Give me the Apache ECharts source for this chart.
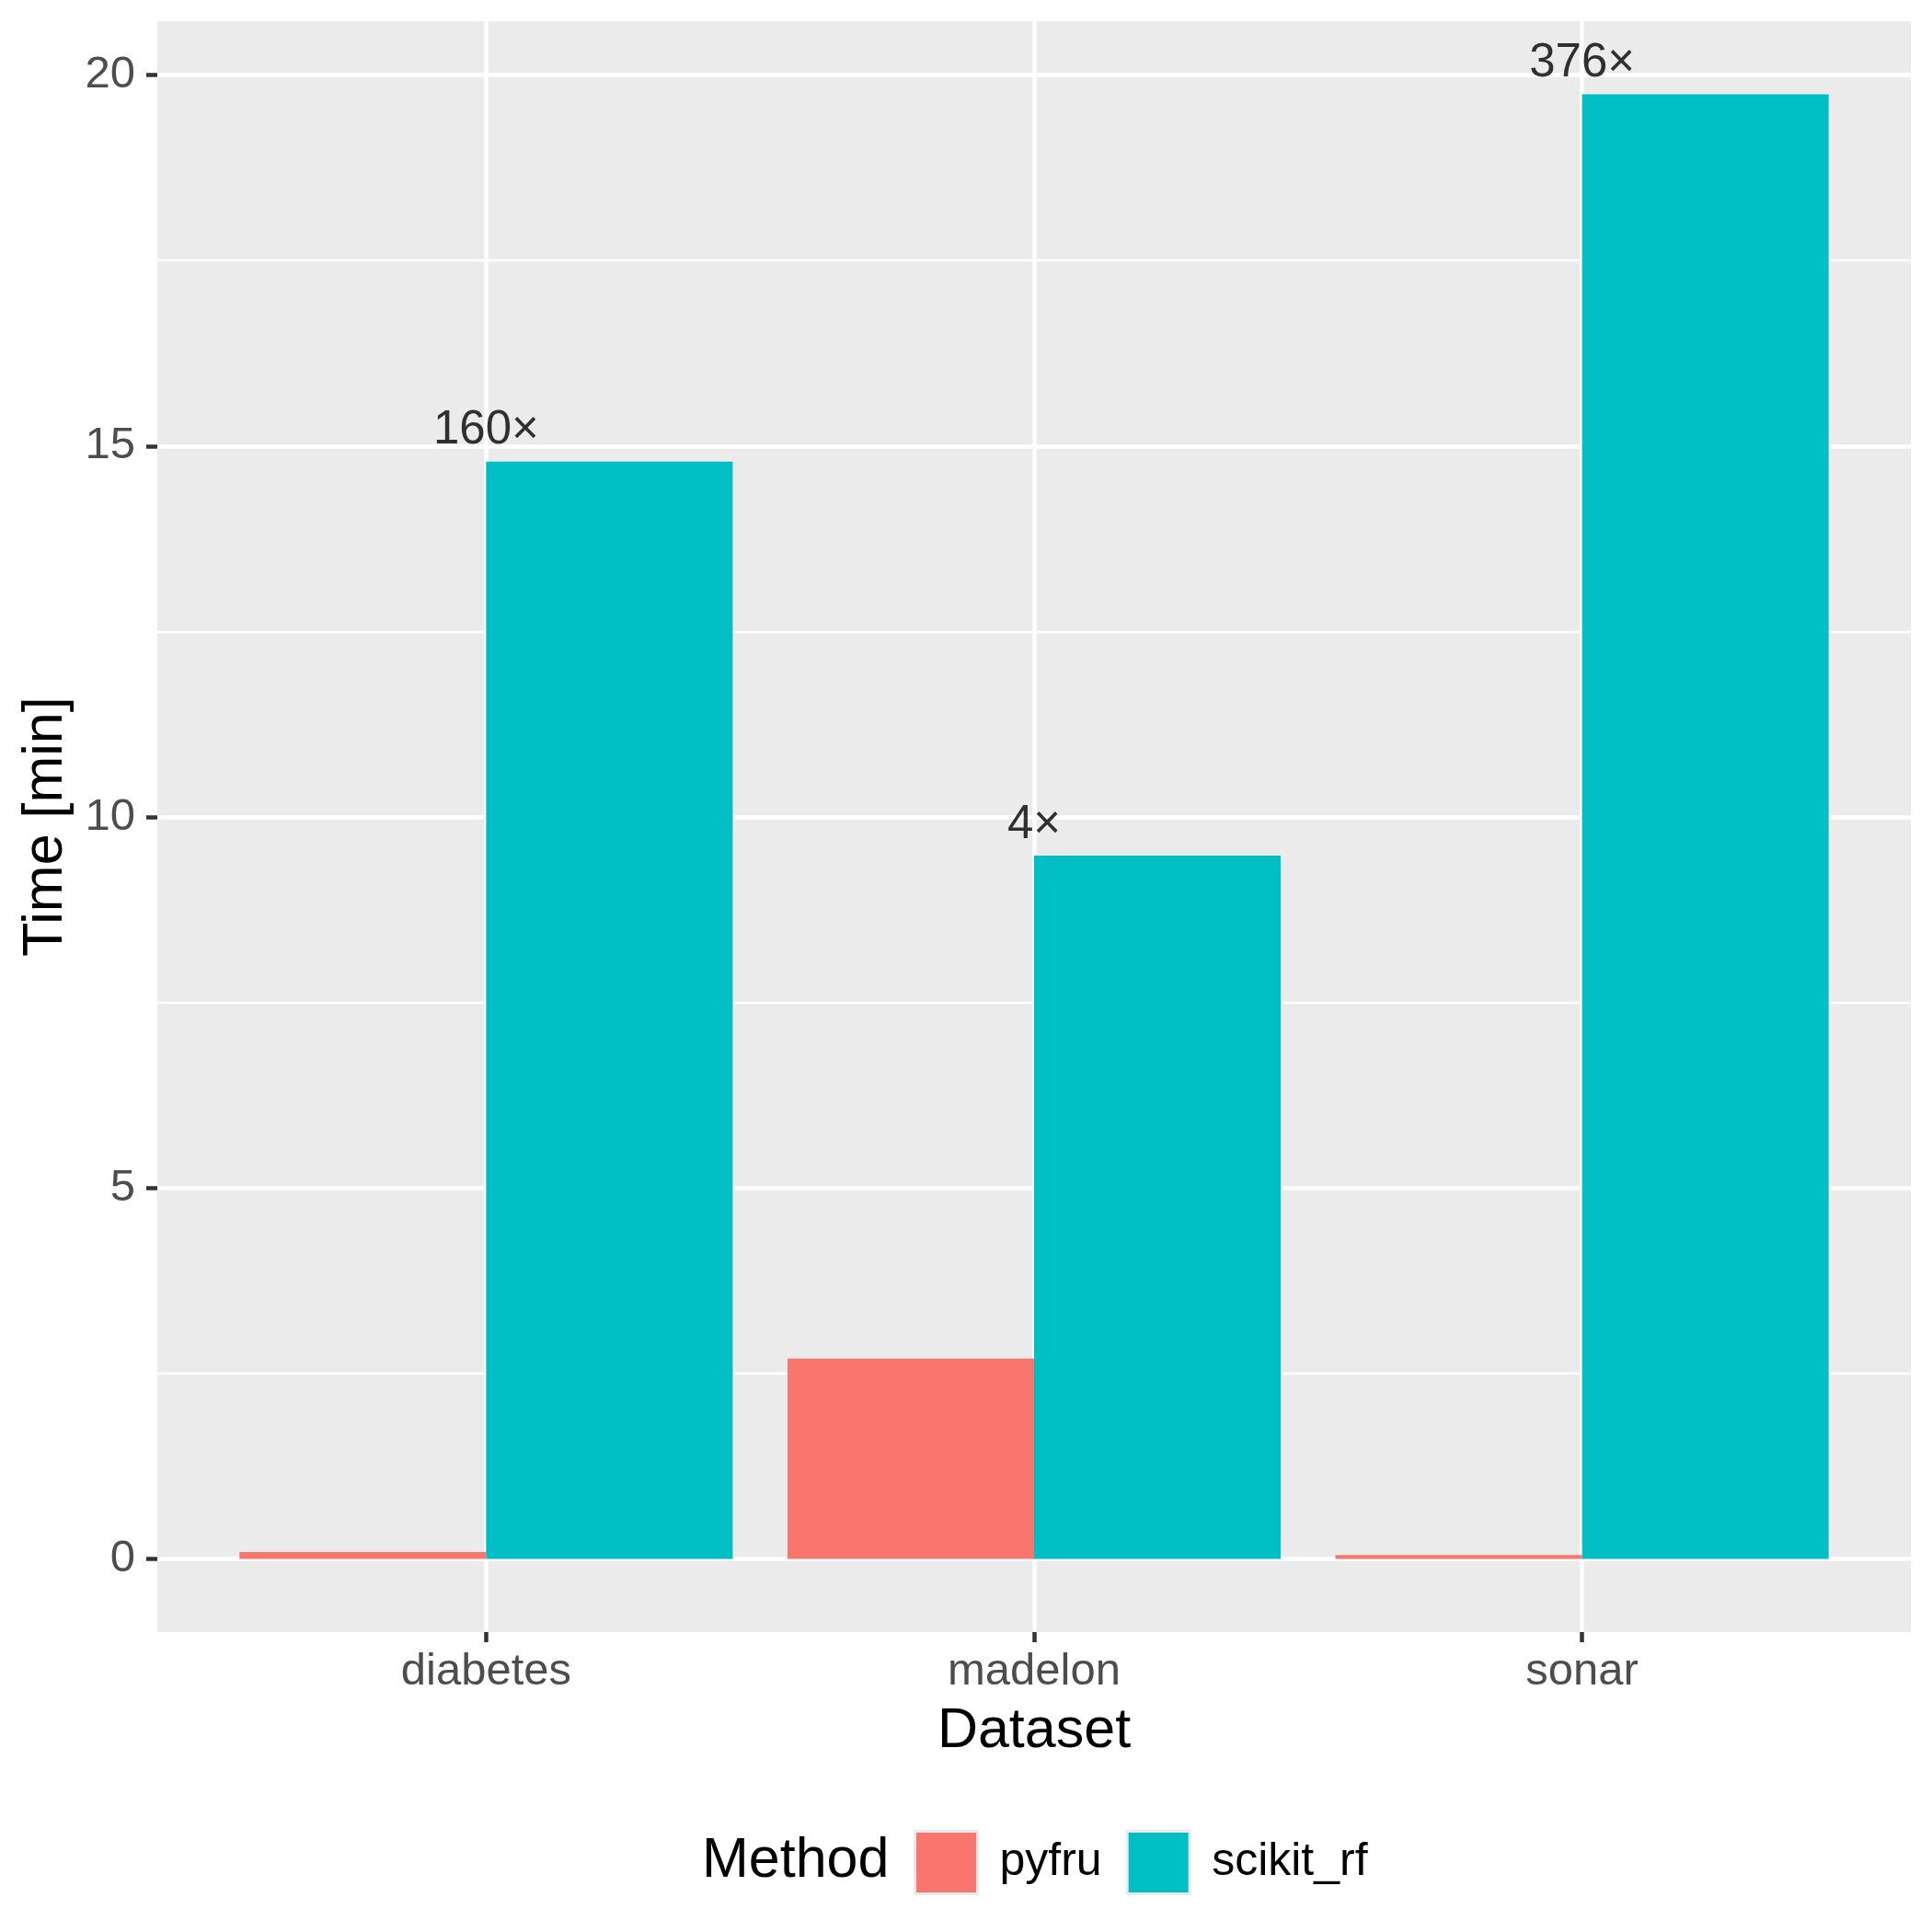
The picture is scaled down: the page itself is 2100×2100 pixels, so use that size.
<!DOCTYPE html>
<html>
<head>
<meta charset="utf-8">
<script src="https://cdn.jsdelivr.net/npm/echarts@6.0.0/dist/echarts.min.js"></script>
<style>
  html, body { margin: 0; padding: 0; background: #fff; }
  #main { width: 2100px; height: 2100px; }
</style>
</head>
<body>
<div id="main"></div>
<script>
// data (minutes)
var datasets = ['diabetes', 'madelon', 'sonar'];
var pyfru = [0.092, 2.70, 0.052];
var scikitRf = [14.79, 9.48, 19.74];
var speedups = ['160×', '4×', '376×'];
var yTicks = [0, 5, 10, 15, 20];
var yMinorTicks = [2.5, 7.5, 12.5, 17.5];
var methods = ['pyfru', 'scikit_rf'];
var colors = ['#F8766D', '#00BFC4'];

// ggplot style expansion of the scales
var yHi = Math.max.apply(null, scikitRf);
var yMin = -0.05 * yHi;
var yMax = yHi * 1.05;
var xMin = 1 - 0.6, xMax = datasets.length + 0.6;

var gridLeft = 171, gridRight = 23, gridTop = 23, gridBottom = 326;
var gridW = 2100 - gridLeft - gridRight;
var unit = gridW / (xMax - xMin);
var barW = 0.45 * unit;

function pts(vals) {
  return vals.map(function (v, i) { return [i + 1, v]; });
}

var font = '"Liberation Sans", Arial, Helvetica, sans-serif';

var chart = echarts.init(document.getElementById('main'));
var option = {
  backgroundColor: '#ffffff',
  animation: false,
  textStyle: { fontFamily: font },
  title: {
    text: 'Method',
    left: 758,
    top: 1988,
    textStyle: { fontFamily: font, fontSize: 61, fontWeight: 'normal', color: '#000' }
  },
  legend: {
    data: methods,
    left: 988,
    top: 1984,
    itemWidth: 68,
    itemHeight: 68,
    itemGap: 26,
    icon: 'rect',
    itemStyle: { borderColor: '#EBEBEB', borderWidth: 3 },
    textStyle: { fontFamily: font, fontSize: 50, color: '#000', padding: [0, 0, 0, 19] }
  },
  grid: {
    left: gridLeft, right: gridRight, top: gridTop, bottom: gridBottom,
    outerBoundsMode: 'none',
    show: true, backgroundColor: '#EBEBEB', borderWidth: 0
  },
  xAxis: {
    type: 'value',
    min: xMin, max: xMax,
    name: 'Dataset',
    nameLocation: 'middle',
    nameGap: 78,
    nameTextStyle: { fontFamily: font, fontSize: 61, color: '#000' },
    axisLine: { show: false, onZero: false },
    axisTick: { show: true, length: 11, customValues: [1, 2, 3], lineStyle: { color: '#333333', width: 4.5 } },
    axisLabel: {
      customValues: [1, 2, 3], margin: 19,
      fontFamily: font, fontSize: 49, color: '#4D4D4D',
      formatter: function (v) { return datasets[Math.round(v) - 1] || ''; }
    },
    splitLine: { show: true, lineStyle: { color: '#FFFFFF', width: 4.5 } }
  },
  yAxis: [{
    type: 'value',
    min: yMin, max: yMax,
    name: 'Time [min]',
    nameLocation: 'middle',
    nameRotate: 90,
    nameGap: 90,
    nameTextStyle: { fontFamily: font, fontSize: 61, color: '#000' },
    axisLine: { show: false, onZero: false },
    axisTick: { show: true, length: 12, customValues: yTicks, lineStyle: { color: '#333333', width: 4.5 } },
    axisLabel: {
      customValues: yTicks, margin: 24,
      fontFamily: font, fontSize: 49, color: '#4D4D4D'
    },
    splitLine: { show: true, lineStyle: { color: '#FFFFFF', width: 4.5 } }
  }, {
    // minor grid lines only
    type: 'value',
    min: yMin, max: yMax,
    position: 'right',
    axisLine: { show: false, onZero: false },
    axisTick: { show: false, customValues: yMinorTicks },
    axisLabel: { show: false, customValues: yMinorTicks },
    splitLine: { show: true, lineStyle: { color: '#FFFFFF', width: 2.3 } }
  }],
  series: [{
    name: 'pyfru',
    type: 'bar',
    data: pts(pyfru),
    barWidth: barW,
    barGap: '0%',
    itemStyle: { color: colors[0] }
  }, {
    name: 'scikit_rf',
    type: 'bar',
    data: pts(scikitRf),
    barWidth: barW,
    barGap: '0%',
    itemStyle: { color: colors[1] }
  }, {
    name: 'speedup',
    type: 'scatter',
    data: pts(scikitRf),
    symbolSize: 0,
    z: 5,
    label: {
      show: true,
      position: 'top',
      distance: 8,
      fontFamily: font,
      fontSize: 51,
      color: '#000000',
      textBorderWidth: 0,
      formatter: function (p) { return speedups[p.dataIndex]; }
    }
  }]
};
chart.setOption(option);
</script>
</body>
</html>
